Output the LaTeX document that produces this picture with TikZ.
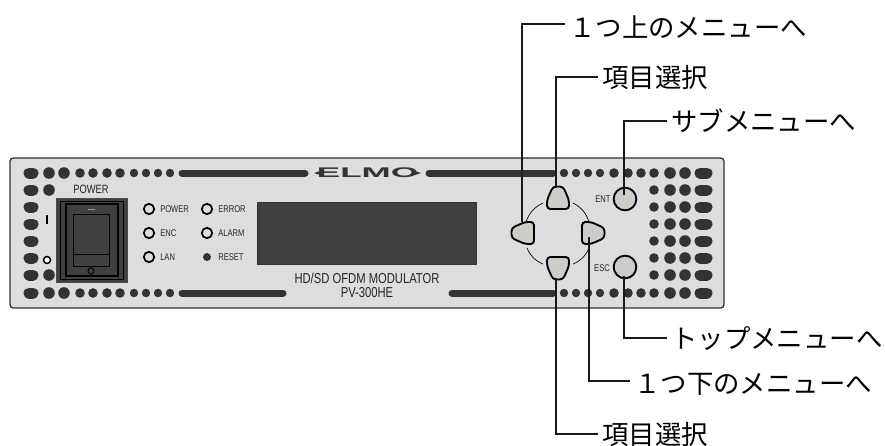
\documentclass[tikz,border=0pt]{standalone}
\usepackage{fontspec}
\usepackage{xcolor}
\setmainfont{Liberation Sans}
\newfontfamily\jpfont{Noto Sans CJK JP}
\newfontfamily\panelfont[FakeStretch=0.78]{Liberation Sans}
\newfontfamily\logofont[FakeStretch=2.5]{Liberation Sans Bold}
\definecolor{panelgrey}{HTML}{DCDDDE}
\definecolor{keygrey}{HTML}{CDCDC7}
\definecolor{holegrey}{HTML}{333333}
\definecolor{dispgrey}{HTML}{404040}
\newcommand{\wideone}{\char"FF11\relax}
\begin{document}
\begin{tikzpicture}[
        x=0.75pt, y=-0.75pt,
        hole/.style={fill=holegrey},
        pill/.style={draw=holegrey, line width=8.25pt, line cap=round},
        slot/.style={draw=holegrey, line width=5.25pt, line cap=round},
        led/.style={draw=black, line width=1.3pt, fill=panelgrey},
        roundkey/.style={draw=black, line width=1.4pt, fill=keygrey},
        ring/.style={draw=black, line width=0.5pt},
        leader/.style={draw=black!90, line width=1.05pt},
        callout/.style={anchor=west, inner xsep=3pt, inner ysep=0pt, text height=17.4pt, text depth=2.4pt, font=\jpfont\fontsize{19.8pt}{20pt}\selectfont},
        ledtext/.style={anchor=west, inner sep=0pt, text=black!85, font=\panelfont\fontsize{7.3pt}{8pt}\selectfont},
        padkey/.pic={\draw[roundkey, rounded corners=2.5pt] (-11,11) -- (-11,2) -- (-5,-11.5) -- (5,-11.5) -- (11,2) -- (11,11) -- cycle;}
    ]
        \useasboundingbox (0,0) rectangle (885,446);

        % Front panel
        \draw[draw=holegrey, fill=panelgrey, line width=1pt, rounded corners=2.5pt] (10,158) rectangle (724,308);

        % Holes along the edges
        \foreach \y in {173,293} {
            \foreach \x/\r in {49/5.8,64/5.8,80/4.8,93/4.8,107/4.8,120/4.8,134/4.2,146/4.2,158/4.2,170/4.2,564/4.2,576/4.2,588/4.2,600/4.2,614/4.8,628/4.8,641/4.8,654/4.8,670/5.8,685/5.8}
                \fill[hole] (\x,\y) circle (\r);
        }
        \foreach \y in {173,190,207,224,241,258,275,293}
            \draw[pill] (29,\y) -- (33,\y);
        \foreach \y in {173,190,207,224,241,258,275,293}
            \draw[pill] (700,\y) -- (707,\y);
        \foreach \y in {190,275}
            \fill[hole] (49,\y) circle (5.8);
        \foreach \y in {190,207,224,241,258,275} {
            \foreach \x/\r in {654/4.8,670/5.8,685/5.8}
                \fill[hole] (\x,\y) circle (\r);
        }
        \draw[slot] (182,173) -- (305,173);
        \draw[slot] (429,173) -- (553,173);
        \draw[slot] (182,293) -- (283,293);
        \draw[slot] (452,293) -- (553,293);

        % Logo
        \node[inner sep=0pt, text=holegrey, font=\logofont\fontsize{10.5pt}{11pt}\selectfont] (logo) at (367.5,173) {ELMO};
        \fill[holegrey] (314,173) -- (320,171) -- (320,175) -- cycle;
        \fill[holegrey] (421,173) -- (415,171) -- (415,175) -- cycle;

        % Power switch
        \node[inner sep=0pt, text=black!85, font=\panelfont\fontsize{9pt}{10pt}\selectfont] (powerlabel) at (91,189) {POWER};
        \draw[draw=black!70, fill=dispgrey, line width=0.5pt] (56,198) rectangle (127,282);
        \draw[draw=black, line width=0.5pt] (60,201) rectangle (123,279);
        \draw[draw=black, line width=1.2pt] (66,204) rectangle (118,276);
        \draw[ring] (73,214) rectangle (109,266);
        \draw[ring] (73,254) -- (109,254);
        \draw[draw=black!40, line width=0.7pt] (88,209) -- (95,209);
        \draw[ring, line width=0.7pt] (91,271) circle (3);
        \draw[draw=black, line width=1.5pt] (47,215) -- (47,224);
        \draw[draw=black, fill=white, line width=1.1pt] (47,260) circle (3.5);

        % LEDs
        \foreach \x/\y/\t in {149/209/POWER,149/233/ENC,149/257/LAN,207/209/ERROR,207/233/ALARM} {
            \draw[led] (\x,\y) circle (5.2);
            \node[ledtext] at (\x+11,\y) {\t};
        }
        \fill[hole] (207,257) circle (4);
        \node[ledtext] (resetlabel) at (218,257) {RESET};

        % Display
        \draw[draw=holegrey, fill=dispgrey, line width=0.5pt] (257,202) rectangle (476,264);
        \node[inner sep=0pt, align=center, text=black!85, font=\panelfont\fontsize{10.8pt}{10.6pt}\selectfont] (model) at (367,285) {HD/SD OFDM MODULATOR\\PV-300HE};

        % Cursor keys
        \draw[ring] (543,203) to[bend right=22] (526,222);
        \draw[ring] (573,203) to[bend left=22] (589,222);
        \draw[ring] (527,248) to[bend right=22] (543,264);
        \draw[ring] (589,248) to[bend left=22] (573,264);
        \pic at (558,198) {padkey};
        \pic[rotate=90] at (523,233) {padkey};
        \pic[rotate=-90] at (593,233) {padkey};
        \pic[rotate=180] at (558,268) {padkey};

        % Round keys
        \node[circle, roundkey, minimum size=17pt, inner sep=0pt] (ent) at (625,199) {};
        \node[circle, roundkey, minimum size=17pt, inner sep=0pt] (esc) at (625,267) {};
        \node[ledtext, anchor=center] (entlabel) at (603,199) {ENT};
        \node[ledtext, anchor=center] (esclabel) at (602,268) {ESC};

        % Leader ends on the keys
        \coordinate (keyleft) at (522,222);
        \coordinate (keyup) at (556,188);
        \coordinate (keyright) at (589,237);
        \coordinate (keydown) at (556,278);
        \coordinate (entend) at (624,195);
        \coordinate (escend) at (624,276);

        % Labels
        \node[callout] (upper) at (565,27) {\wideone つ上のメニューへ};
        \node[callout] (itemup) at (598,77) {項目選択};
        \node[callout] (submenu) at (667,121) {サブメニューへ};
        \node[callout] (topmenu) at (667,338) {トップメニューへ};
        \node[callout] (lower) at (630,383) {\wideone つ下のメニューへ};
        \node[callout] (itemdown) at (598,434) {項目選択};

        % Leaders
        \draw[leader] ([yshift=2.2pt]upper.west) -| (keyleft);
        \draw[leader] (itemup.west) -| (keyup);
        \draw[leader] (submenu.west) -| (entend);
        \draw[leader] (topmenu.west) -| (escend);
        \draw[leader] ([yshift=1.5pt]lower.west) -| (keyright);
        \draw[leader] (itemdown.west) -| (keydown);
    \end{tikzpicture}
\end{document}
